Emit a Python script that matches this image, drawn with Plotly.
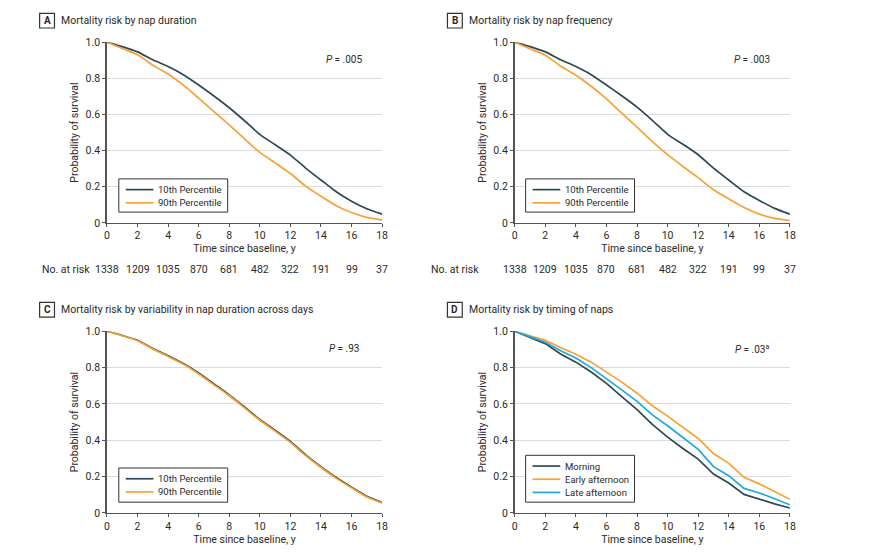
import plotly.graph_objects as go

years = list(range(0, 19))

# Panel A: nap duration
a_p10 = [1.0, 0.975, 0.946, 0.902, 0.865, 0.82, 0.763, 0.702, 0.637, 0.565, 0.49, 0.432, 0.375, 0.303, 0.237, 0.172, 0.12, 0.078, 0.048]
a_p90 = [1.0, 0.965, 0.93, 0.872, 0.824, 0.762, 0.69, 0.616, 0.542, 0.465, 0.39, 0.332, 0.273, 0.203, 0.147, 0.095, 0.057, 0.03, 0.016]
# Panel B: nap frequency
b_p10 = [1.0, 0.975, 0.946, 0.903, 0.865, 0.82, 0.763, 0.703, 0.64, 0.567, 0.49, 0.435, 0.377, 0.303, 0.237, 0.172, 0.124, 0.08, 0.048]
b_p90 = [1.0, 0.963, 0.928, 0.868, 0.817, 0.756, 0.686, 0.607, 0.53, 0.45, 0.377, 0.312, 0.25, 0.183, 0.133, 0.085, 0.048, 0.025, 0.013]
# Panel C: variability in nap duration
c_p10 = [1.0, 0.977, 0.95, 0.905, 0.865, 0.822, 0.77, 0.71, 0.65, 0.583, 0.515, 0.455, 0.393, 0.32, 0.255, 0.195, 0.142, 0.092, 0.057]
c_p90 = [1.0, 0.976, 0.948, 0.902, 0.861, 0.818, 0.765, 0.705, 0.645, 0.578, 0.51, 0.45, 0.388, 0.315, 0.25, 0.19, 0.138, 0.088, 0.055]
# Panel D: timing of naps
d_morning = [1.0, 0.968, 0.932, 0.875, 0.83, 0.776, 0.713, 0.64, 0.569, 0.487, 0.417, 0.355, 0.296, 0.214, 0.165, 0.102, 0.075, 0.05, 0.027]
d_early = [1.0, 0.977, 0.95, 0.91, 0.874, 0.83, 0.776, 0.72, 0.659, 0.59, 0.533, 0.472, 0.41, 0.327, 0.273, 0.196, 0.16, 0.118, 0.075]
d_late = [1.0, 0.972, 0.94, 0.893, 0.853, 0.8, 0.74, 0.677, 0.614, 0.54, 0.48, 0.415, 0.35, 0.255, 0.205, 0.135, 0.11, 0.078, 0.045]

risk_years = [0, 2, 4, 6, 8, 10, 12, 14, 16, 18]
risk_counts = [1338, 1209, 1035, 870, 681, 482, 322, 191, 99, 37]

titles = ["Mortality risk by nap duration", "Mortality risk by nap frequency",
          "Mortality risk by variability in nap duration across days", "Mortality risk by timing of naps"]
letters = ["A", "B", "C", "D"]
pvals = ["<i>P</i> = .005", "<i>P</i> = .003", "<i>P</i> = .93", "<i>P</i> = .03<sup>a</sup>"]

DARK = "#2e4954"
ORANGE = "#f6a236"
BLUE = "#1ea8e2"
FONT = "Roboto, Liberation Sans, sans-serif"
TXT = "#2a2a2a"

W, H = 885, 559
def px(x):
    return x / W
def py(y):
    return 1 - y / H

# plot areas in pixels: (left, right, top, bottom)
areas = [(105, 383, 37, 222), (517, 795, 37, 222), (105, 383, 333, 519), (517, 795, 333, 519)]
# legend boxes in pixels: (left, right, top, bottom, first row y)
legend_boxes = [(117, 227, 177, 211, 188), (528, 638, 177, 211, 188),
                (117, 227, 473, 508, 484), (528, 638, 460, 508, 471)]

fig = go.Figure()

series = [
    [(a_p10, "10th Percentile", DARK), (a_p90, "90th Percentile", ORANGE)],
    [(b_p10, "10th Percentile", DARK), (b_p90, "90th Percentile", ORANGE)],
    [(c_p10, "10th Percentile", DARK), (c_p90, "90th Percentile", ORANGE)],
    [(d_morning, "Morning", DARK), (d_early, "Early afternoon", ORANGE), (d_late, "Late afternoon", BLUE)],
]

layout = dict(
    width=W, height=H, margin=dict(l=0, r=0, t=0, b=0),
    paper_bgcolor="white", plot_bgcolor="white",
    font=dict(family=FONT, size=10, color=TXT),
    annotations=[], shapes=[], showlegend=False,
)

for i, (l, r, t, b) in enumerate(areas):
    n = i + 1
    xa = "x" if n == 1 else f"x{n}"
    ya = "y" if n == 1 else f"y{n}"
    for vals, name, col in series[i]:
        fig.add_trace(go.Scatter(
            x=years, y=vals, name=name, mode="lines",
            line=dict(color=col, width=1.7, shape="spline" if i < 3 else "linear", smoothing=0.6),
            xaxis=xa, yaxis=ya))
    layout[f"xaxis{'' if n == 1 else n}"] = dict(
        domain=[px(l), px(r)], anchor=ya, range=[0, 18], tickvals=list(range(0, 19, 2)),
        showgrid=False, zeroline=False, showline=True, linecolor="#555555", linewidth=1,
        ticks="outside", ticklen=3, tickcolor="#555555", tickfont=dict(size=10.5, color=TXT),
        title=dict(text="Time since baseline, y", font=dict(size=10.5, color=TXT), standoff=3),
        fixedrange=True)
    layout[f"yaxis{'' if n == 1 else n}"] = dict(
        domain=[py(b), py(t)], anchor=xa, range=[0, 1],
        tickvals=[0, 0.2, 0.4, 0.6, 0.8, 1.0], ticktext=["0", "0.2", "0.4", "0.6", "0.8", "1.0"],
        showgrid=True, gridcolor="#dcdcdc", gridwidth=1, zeroline=False,
        showline=True, linecolor="#555555", linewidth=1.5, ticks="outside", ticklen=3, tickcolor="#555555",
        tickfont=dict(size=10.5, color=TXT),
        title=dict(text="Probability of survival", font=dict(size=10.5, color=TXT), standoff=5),
        fixedrange=True)
    # custom legend
    ll, lr, lt, lb, row0 = legend_boxes[i]
    layout["shapes"].append(dict(type="rect", xref="paper", yref="paper",
                                 x0=px(ll), x1=px(lr), y0=py(lb), y1=py(lt),
                                 line=dict(color="#333333", width=1), fillcolor="white", layer="above"))
    for k, (vals, name, col) in enumerate(series[i]):
        ry = row0 + k * 13.5
        layout["shapes"].append(dict(type="line", xref="paper", yref="paper",
                                     x0=px(ll + 7), x1=px(ll + 35), y0=py(ry), y1=py(ry),
                                     line=dict(color=col, width=1.7), layer="above"))
        layout["annotations"].append(dict(xref="paper", yref="paper", x=px(ll + 38), y=py(ry),
                                          text=name, showarrow=False, xanchor="left", yanchor="middle",
                                          font=dict(size=9.5, color=TXT)))
    # title letter box
    ty = 15 if i < 2 else 311
    bx = 37 if i % 2 == 0 else 449
    layout["shapes"].append(dict(type="rect", xref="paper", yref="paper",
                                 x0=px(bx), x1=px(bx + 15), y0=py(ty + 7.5), y1=py(ty - 7.5),
                                 line=dict(color="#333333", width=1.2)))
    layout["annotations"].append(dict(xref="paper", yref="paper", x=px(bx + 7.5), y=py(ty),
                                      text=f"<b>{letters[i]}</b>", showarrow=False,
                                      xanchor="center", yanchor="middle", font=dict(size=10, color=TXT)))
    layout["annotations"].append(dict(xref="paper", yref="paper", x=px(bx + 20), y=py(ty),
                                      text=titles[i], showarrow=False,
                                      xanchor="left", yanchor="middle", font=dict(size=10.5, color=TXT)))
    # P value
    layout["annotations"].append(dict(xref=xa, yref=ya, x=15.5, y=0.905, text=pvals[i],
                                      showarrow=False, xanchor="center", yanchor="middle",
                                      font=dict(size=10, color=TXT)))
    # risk table (top panels)
    if i < 2:
        layout["annotations"].append(dict(xref="paper", yref="paper", x=px(37 if i == 0 else 430), y=py(270),
                                          text="No. at risk", showarrow=False, xanchor="left",
                                          yanchor="middle", font=dict(size=10.5, color=TXT)))
        for ry, rc in zip(risk_years, risk_counts):
            layout["annotations"].append(dict(xref=xa, yref="paper", x=ry, y=py(270), text=str(rc),
                                              showarrow=False, xanchor="center", yanchor="middle",
                                              font=dict(size=10.5, color=TXT)))

fig.update_layout(**layout)
fig.write_html("out.html")
